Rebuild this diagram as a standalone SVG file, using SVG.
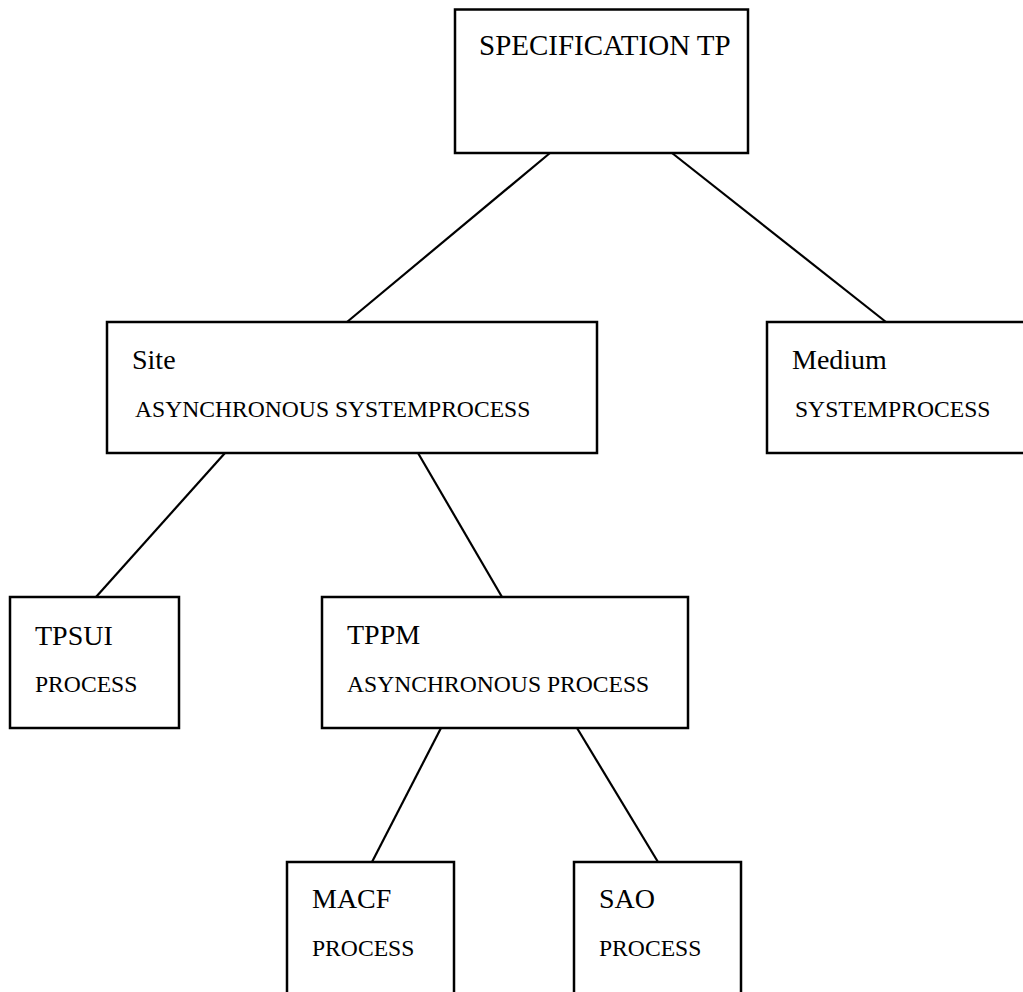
<svg xmlns="http://www.w3.org/2000/svg" width="1023" height="992" viewBox="0 0 1023 992">
  <style>
    .box { fill: #ffffff; stroke: #000000; stroke-width: 2.5; }
    .edge { stroke: #000000; stroke-width: 2.2; fill: none; }
    .title { font-family: "Liberation Serif", "Times New Roman", serif; font-size: 29px; fill: #000000; }
    .name { font-family: "Liberation Serif", "Times New Roman", serif; font-size: 28px; fill: #000000; }
    .kind { font-family: "Liberation Serif", "Times New Roman", serif; font-size: 23.6px; fill: #000000; }
  </style>
  <rect width="1023" height="992" fill="#ffffff"/>

  <!-- tree connectors -->
  <g id="connectors">
    <line class="edge" x1="550" y1="153" x2="347" y2="322"/>
    <line class="edge" x1="672" y1="153" x2="886" y2="322"/>
    <line class="edge" x1="225" y1="453" x2="96" y2="597"/>
    <line class="edge" x1="418" y1="453" x2="502" y2="597"/>
    <line class="edge" x1="441" y1="728" x2="372" y2="862"/>
    <line class="edge" x1="577" y1="728" x2="658" y2="862"/>
  </g>

  <g id="spec-tp">
    <rect class="box" x="455" y="9.5" width="293" height="143.5"/>
    <text class="title" x="479" y="55">SPECIFICATION TP</text>
  </g>

  <g id="site">
    <rect class="box" x="107" y="322" width="490" height="131"/>
    <text class="name" x="132" y="369">Site</text>
    <text class="kind" x="135" y="417">ASYNCHRONOUS SYSTEMPROCESS</text>
  </g>

  <g id="medium">
    <rect class="box" x="767" y="322" width="270" height="131"/>
    <text class="name" x="792" y="369">Medium</text>
    <text class="kind" x="795" y="417">SYSTEMPROCESS</text>
  </g>

  <g id="tpsui">
    <rect class="box" x="10" y="597" width="169" height="131"/>
    <text class="name" x="35" y="645">TPSUI</text>
    <text class="kind" x="35" y="692">PROCESS</text>
  </g>

  <g id="tppm">
    <rect class="box" x="322" y="597" width="366" height="131"/>
    <text class="name" x="347" y="644">TPPM</text>
    <text class="kind" x="347" y="692">ASYNCHRONOUS PROCESS</text>
  </g>

  <g id="macf">
    <rect class="box" x="287" y="862" width="167" height="140"/>
    <text class="name" x="312" y="908">MACF</text>
    <text class="kind" x="312" y="956">PROCESS</text>
  </g>

  <g id="sao">
    <rect class="box" x="574" y="862" width="167" height="140"/>
    <text class="name" x="599" y="908">SAO</text>
    <text class="kind" x="599" y="956">PROCESS</text>
  </g>
</svg>
